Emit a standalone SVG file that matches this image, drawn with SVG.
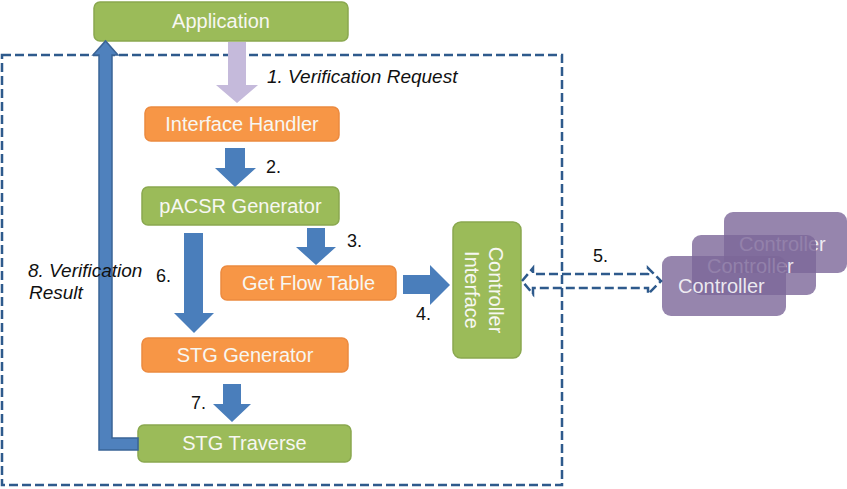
<svg xmlns="http://www.w3.org/2000/svg" width="847" height="489" viewBox="0 0 847 489">
<style>
.box text{font-family:"Liberation Sans",Arial,sans-serif;font-size:20px;fill:#f7f7f2;text-anchor:middle}
.green{fill:#9bbb59;stroke:#8aa84f;stroke-width:1.5}
.orange{fill:#f79646;stroke:#ec8a3f;stroke-width:1.5}
.ctrl rect{fill:#7c6699;fill-opacity:0.8}
.ctrl text{font-family:"Liberation Sans",Arial,sans-serif;font-size:20px;fill:#ffffff;fill-opacity:0.85}
.lbl{font-family:"Liberation Sans",Arial,sans-serif;font-size:18px;fill:#111}
.it{font-style:italic;font-size:19px}
.blk{fill:#4a7ebb}
.dash{fill:none;stroke:#2e5a8c;stroke-width:2.5;stroke-dasharray:9 4}
</style>
<rect class="dash" x="2" y="55" width="560" height="430"/>

<g id="application" class="box"><rect class="green" x="94" y="2" width="254" height="39" rx="6"/><text x="221" y="28">Application</text></g>
<g id="interface-handler" class="box"><rect class="orange" x="145" y="107" width="194" height="34" rx="6"/><text x="242" y="131">Interface Handler</text></g>
<g id="pacsr-generator" class="box"><rect class="green" x="142" y="187" width="197" height="38" rx="6"/><text x="240.5" y="213">pACSR Generator</text></g>
<g id="get-flow-table" class="box"><rect class="orange" x="221" y="266" width="175" height="34" rx="6"/><text x="308.5" y="290">Get Flow Table</text></g>
<g id="stg-generator" class="box"><rect class="orange" x="142" y="338" width="206" height="34" rx="6"/><text x="245" y="362">STG Generator</text></g>
<g id="stg-traverse" class="box"><rect class="green" x="138" y="425" width="213" height="37" rx="6"/><text x="244.5" y="450">STG Traverse</text></g>
<g id="controller-interface" class="box"><rect class="green" x="453" y="222" width="68" height="136" rx="8"/>
<text transform="translate(489,290) rotate(90)">Controller</text>
<text transform="translate(465,290) rotate(90)">Interface</text></g>

<g id="controllers" class="ctrl">
<g id="controller-back"><rect x="724" y="212" width="123" height="61" rx="9"/><text x="739" y="251">Controller</text></g>
<g id="controller-middle"><rect x="692" y="235" width="124" height="60" rx="9"/><text x="707" y="273">Controller</text></g>
<g id="controller-front"><rect x="662" y="256" width="124" height="60" rx="9"/><text x="678" y="293">Controller</text></g>
</g>

<g id="connectors">
<polygon fill="#c5badb" points="228,42 246,42 246,85 258,85 237,103 216,85 228,85"/>
<polygon class="blk" points="225,148 245,148 245,168 256,168 235,187 215,168 225,168"/>
<polygon class="blk" points="307,228 325,228 325,247 336,247 316,265 296,247 307,247"/>
<polygon class="blk" points="184,233 203,233 203,313 214,313 194,333 174,313 184,313"/>
<polygon class="blk" points="403,275 430,275 430,265 450,285 430,305 430,294 403,294"/>
<polygon class="blk" points="223,384 241,384 241,404 251,404 232,422 213,404 223,404"/>
<polygon fill="#4f81bd" stroke="#3a6496" stroke-width="1.5" stroke-linejoin="miter" points="138,438 112,438 112,55 118,55 105.5,41 93,55 99,55 99,450 138,450"/>
<polygon class="dash" stroke-dasharray="8 4" points="522,281 533,268 533,274 648,274 648,268 661,281 648,294 648,288 533,288 533,294"/>
</g>

<g id="labels" class="lbl">
<text class="it" x="267" y="83">1. Verification Request</text>
<text x="266" y="173">2.</text>
<text x="347" y="247">3.</text>
<text x="416" y="320">4.</text>
<text x="593" y="262">5.</text>
<text x="156" y="282">6.</text>
<text x="191" y="409">7.</text>
<text class="it" x="28" y="277">8. Verification</text>
<text class="it" x="29" y="299">Result</text>
</g>
</svg>
